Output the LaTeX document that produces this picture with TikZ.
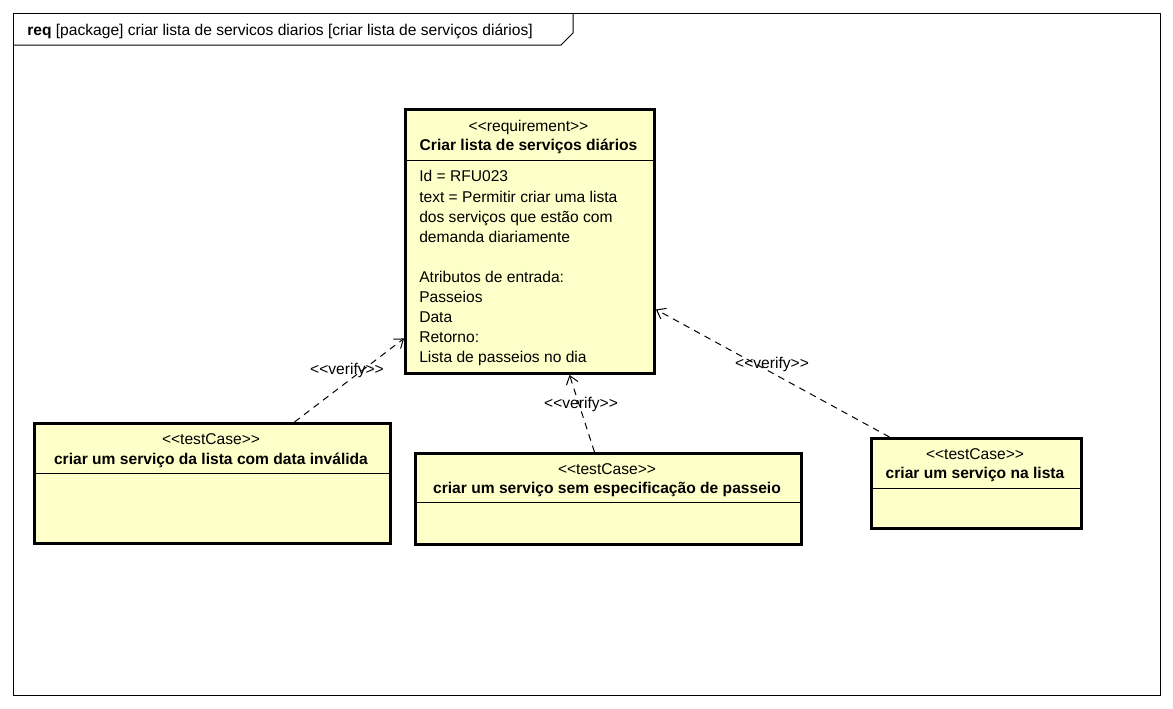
\documentclass[tikz,border=0pt]{standalone}
\usepackage{fontspec}
\setmainfont{Liberation Sans}
\usetikzlibrary{arrows.meta,calc}
\definecolor{boxfill}{RGB}{255,255,202}
\newcommand{\gu}[1]{<{}<#1>{}>}
\tikzset{
  box/.style={draw=black, line width=2.2pt, fill=boxfill, rectangle, anchor=north west, inner sep=0pt},
  sep/.style={line width=0.75pt},
  txt/.style={font=\fontsize{11.7}{13}\selectfont, inner sep=0pt},
  btxt/.style={font=\fontsize{11.7}{13}\selectfont\bfseries, inner sep=0pt},
  verify/.style={dashed, dash pattern=on 5pt off 4pt, line width=0.75pt, -{Straight Barb[length=6pt,width=9pt,line width=0.75pt]}},
  frame/.style={line width=0.75pt}
}
\begin{document}
\begin{tikzpicture}[x=0.75pt,y=-0.75pt]
\useasboundingbox (0,0) rectangle (1173,708);
% frame
\draw[frame] (13,13) rectangle (1160,695);
\draw[frame] (13,45) -- (561,45) -- (573,33) -- (573,13);
\node[txt, anchor=west] (title) at (27,31) {\textbf{req} [package] criar lista de servicos diarios [criar lista de serviços diários]};

% requirement
\node[box, minimum width=186.75pt, minimum height=198pt] (req) at (404,108) {};
\draw[sep] (404,160) -- (653,160);
\node[txt] (reqst) at (528.5,127) {\gu{requirement}};
\node[btxt] (reqname) at (528.5,146) {Criar lista de serviços diários};
\foreach \t [count=\i from 0] in {Id = RFU023, text = Permitir criar uma lista, dos serviços que estão com, demanda diariamente, {}, Atributos de entrada:, Passeios, Data, Retorno:, Lista de passeios no dia}{
  \node[txt, anchor=west] (reqline\i) at (419,{178.5+20.1*\i}) {\strut\t};
}

% test case 1
\node[box, minimum width=267pt, minimum height=90pt] (tc1) at (33,422) {};
\draw[sep] (33,473) -- (389,473);
\node[txt] (tc1st) at (211,439) {\gu{testCase}};
\node[btxt] (tc1name) at (211,460) {criar um serviço da lista com data inválida};

% test case 2
\node[box, minimum width=289.5pt, minimum height=68.25pt] (tc2) at (414,452) {};
\draw[sep] (414,502) -- (800,502);
\node[txt] (tc2st) at (607,469) {\gu{testCase}};
\node[btxt] (tc2name) at (607,489) {criar um serviço sem especificação de passeio};

% test case 3
\node[box, minimum width=157.5pt, minimum height=67.5pt] (tc3) at (870,437) {};
\draw[sep] (870,488) -- (1080,488);
\node[txt] (tc3st) at (975,454) {\gu{testCase}};
\node[btxt] (tc3name) at (975,474) {criar um serviço na lista};

% connectors
\draw[verify] ([xshift=-0.75*(211-293)*1pt]tc1.north) -- ([yshift=-0.75*(337-240)*1pt]req.west);
\draw[verify] ([xshift=0.75*(593-607)*1pt]tc2.north) -- ([xshift=0.75*(568-528.5)*1pt]req.south);
\draw[verify] ([xshift=0.75*(888-975)*1pt]tc3.north) -- ([yshift=-0.75*(308-240)*1pt]req.east);

\node[txt] (v1) at (347,370) {\gu{verify}};
\node[txt] (v2) at (581,404) {\gu{verify}};
\node[txt] (v3) at (772,364) {\gu{verify}};
\end{tikzpicture}
\end{document}
